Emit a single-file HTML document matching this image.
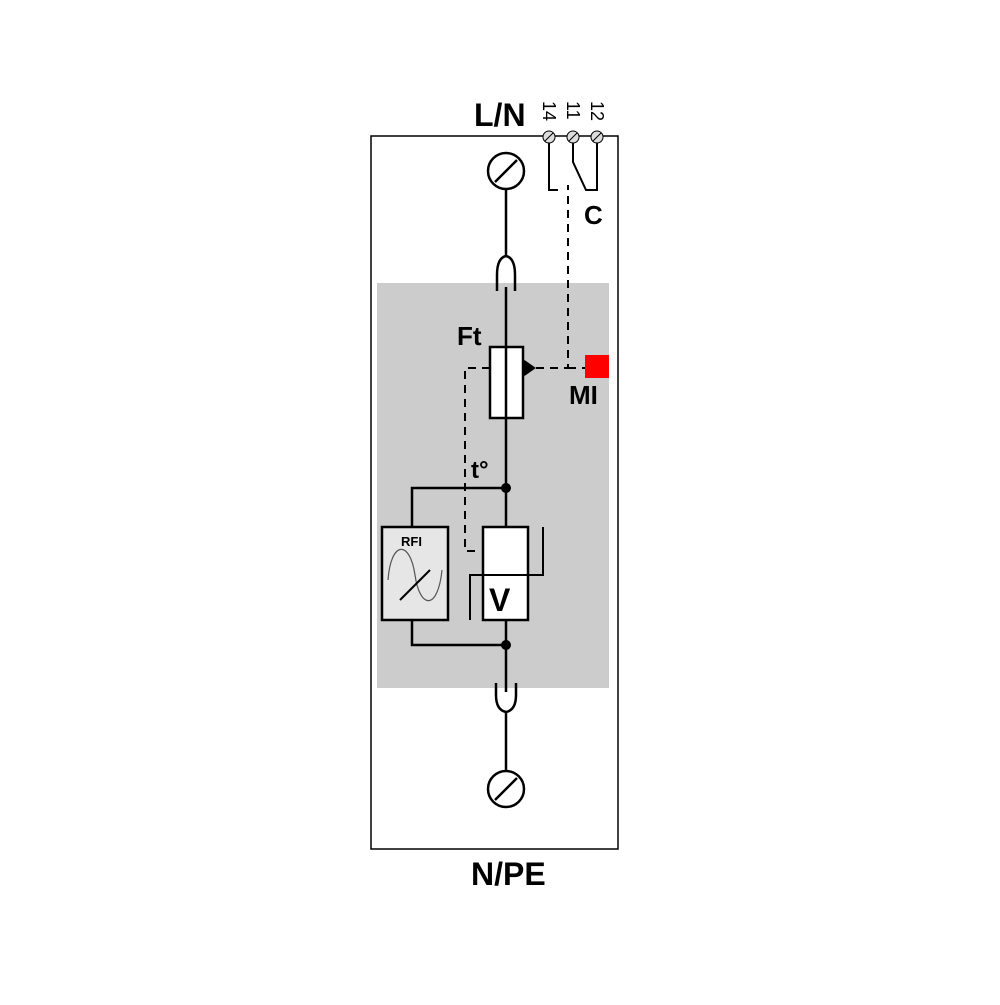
<!DOCTYPE html>
<html><head><style>body{margin:0;background:#fff}</style></head><body>
<svg width="1000" height="1000" viewBox="0 0 1000 1000" xmlns="http://www.w3.org/2000/svg" font-family="Liberation Sans, Arial, sans-serif" font-weight="bold">
<rect x="371" y="136" width="247" height="713" fill="#fff" stroke="#000" stroke-width="1.5"/>
<rect x="377" y="283" width="232" height="405" fill="#cccccc"/>
<g stroke="#000" stroke-width="2.5" fill="none">
<circle cx="506" cy="171" r="18" fill="#fff"/>
<line x1="495" y1="182" x2="517" y2="160"/>
<line x1="506" y1="189" x2="506" y2="256"/>
<path d="M497 291 V275 Q497 258 506 256 Q515 258 515 275 V291"/>
<line x1="506" y1="287" x2="506" y2="347"/>
<line x1="506" y1="418" x2="506" y2="527"/>
<line x1="506" y1="620" x2="506" y2="692"/>
<path d="M496 683 V695 Q496 710 506 712 Q516 710 516 695 V683"/>
<line x1="506" y1="712" x2="506" y2="771"/>
<circle cx="506" cy="789" r="18" fill="#fff"/>
<line x1="495" y1="800" x2="517" y2="778"/>
<rect x="490" y="347" width="33" height="71" fill="#fff"/>
<line x1="506" y1="347" x2="506" y2="418"/>
<polyline points="506,488 412,488 412,527"/>
<polyline points="412,620 412,645 506,645"/>
<rect x="382" y="527" width="66" height="93" fill="#e6e6e6"/>
<rect x="483" y="527" width="45" height="93" fill="#fff"/>
<polyline points="470,620 470,575 543,575 543,527" stroke-width="2"/>
<line x1="483" y1="575" x2="528" y2="575" stroke-width="2"/>
</g>
<path d="M388 580 C391 540 410 540 415 575 C420 610 438 610 442 570" stroke="#555" stroke-width="1.2" fill="none"/>
<line x1="400" y1="600" x2="430" y2="570" stroke="#000" stroke-width="2"/>
<polygon points="523,359 536,368 523,377" fill="#000"/>
<g stroke="#000" stroke-width="2" fill="none" stroke-dasharray="8,6">
<polyline points="536,368 568,368 568,185"/>
<line x1="568" y1="368" x2="585" y2="368"/>
<polyline points="490,368 465,368 465,551 480,551"/>
</g>
<rect x="585" y="355" width="24" height="23" fill="#ff0000"/>
<circle cx="506" cy="488" r="5" fill="#000"/>
<circle cx="506" cy="645" r="5" fill="#000"/>
<g stroke="#000" stroke-width="2" fill="none">
<polyline points="549,137 549,190 558,190"/>
<polyline points="573,137 573,162 586,190 597,190 597,137"/>
</g>
<g stroke="#000" stroke-width="1" fill="#ddd">
<circle cx="549" cy="137" r="6"/><circle cx="573" cy="137" r="6"/><circle cx="597" cy="137" r="6"/>
<line x1="545" y1="141" x2="553" y2="133"/><line x1="569" y1="141" x2="577" y2="133"/><line x1="593" y1="141" x2="601" y2="133"/>
</g>
<g font-size="18" font-weight="normal">
<text transform="translate(543,101) rotate(90)">14</text>
<text transform="translate(567,101) rotate(90)">11</text>
<text transform="translate(591,101) rotate(90)">12</text>
</g>
<text x="474" y="126" font-size="32">L/N</text>
<text x="471" y="885" font-size="32">N/PE</text>
<text x="584" y="224" font-size="26">C</text>
<text x="457" y="345" font-size="26">Ft</text>
<text x="569" y="404" font-size="26">MI</text>
<text x="471" y="478" font-size="24">t°</text>
<text x="401" y="546" font-size="13">RFI</text>
<text x="489" y="611" font-size="32">V</text>
</svg>
</body></html>
